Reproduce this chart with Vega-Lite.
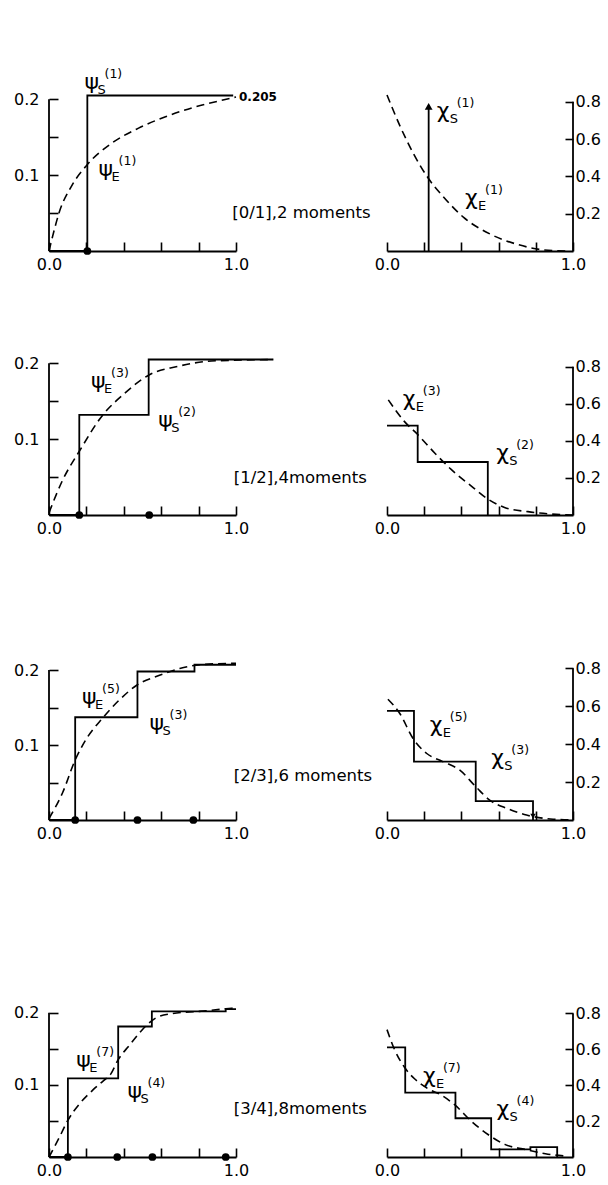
{
  "$schema": "https://vega.github.io/schema/vega-lite/v6.json",
  "padding": {"left": 13, "top": 60, "right": 5, "bottom": 5},
  "background": "white",
  "bounds": "flush",
  "columns": 2,
  "spacing": {"row": 20, "column": 151},
  "config": {
    "view": {"stroke": null},
    "font": "DejaVu Sans",
    "mark": {"color": "black"},
    "axis": {"domainColor": "black", "domainWidth": 1.8, "tickColor": "black", "tickWidth": 1.6, "labelFont": "DejaVu Sans", "labelFontSize": 16, "labelColor": "black", "labelOverlap": false, "labelBound": false, "labelFlush": false, "grid": false, "title": null},
    "text": {"font": "DejaVu Sans", "color": "black"}
  },
  "datasets": {
    "frame": [{"side": "L", "x": 0, "y": 0, "y2": 0.2}, {"side": "R", "x": 1, "y": 0, "y2": 0.8}],
    "steps": [
      {"p": "L1", "k": 1, "x": 0, "y": 0}, {"p": "L1", "k": 2, "x": 0.205, "y": 0}, {"p": "L1", "k": 3, "x": 0.205, "y": 0.205}, {"p": "L1", "k": 4, "x": 0.985, "y": 0.205},
      {"p": "L2", "k": 1, "x": 0, "y": 0}, {"p": "L2", "k": 2, "x": 0.162, "y": 0}, {"p": "L2", "k": 3, "x": 0.162, "y": 0.132}, {"p": "L2", "k": 4, "x": 0.533, "y": 0.132}, {"p": "L2", "k": 5, "x": 0.533, "y": 0.205}, {"p": "L2", "k": 6, "x": 1.2, "y": 0.205},
      {"p": "L3", "k": 1, "x": 0, "y": 0}, {"p": "L3", "k": 2, "x": 0.14, "y": 0}, {"p": "L3", "k": 3, "x": 0.14, "y": 0.137}, {"p": "L3", "k": 4, "x": 0.473, "y": 0.137}, {"p": "L3", "k": 5, "x": 0.473, "y": 0.198}, {"p": "L3", "k": 6, "x": 0.778, "y": 0.198}, {"p": "L3", "k": 7, "x": 0.778, "y": 0.207}, {"p": "L3", "k": 8, "x": 1.0, "y": 0.207},
      {"p": "L4", "k": 1, "x": 0, "y": 0}, {"p": "L4", "k": 2, "x": 0.101, "y": 0}, {"p": "L4", "k": 3, "x": 0.101, "y": 0.109}, {"p": "L4", "k": 4, "x": 0.37, "y": 0.109}, {"p": "L4", "k": 5, "x": 0.37, "y": 0.181}, {"p": "L4", "k": 6, "x": 0.55, "y": 0.181}, {"p": "L4", "k": 7, "x": 0.55, "y": 0.202}, {"p": "L4", "k": 8, "x": 0.945, "y": 0.202}, {"p": "L4", "k": 9, "x": 0.945, "y": 0.205}, {"p": "L4", "k": 10, "x": 1.0, "y": 0.205},
      {"p": "R1", "k": 1, "x": 0.224, "y": 0}, {"p": "R1", "k": 2, "x": 0.224, "y": 0.78},
      {"p": "R2", "k": 1, "x": 0, "y": 0.482}, {"p": "R2", "k": 2, "x": 0.165, "y": 0.482}, {"p": "R2", "k": 3, "x": 0.165, "y": 0.286}, {"p": "R2", "k": 4, "x": 0.542, "y": 0.286}, {"p": "R2", "k": 5, "x": 0.542, "y": 0},
      {"p": "R3", "k": 1, "x": 0, "y": 0.575}, {"p": "R3", "k": 2, "x": 0.145, "y": 0.575}, {"p": "R3", "k": 3, "x": 0.145, "y": 0.308}, {"p": "R3", "k": 4, "x": 0.477, "y": 0.308}, {"p": "R3", "k": 5, "x": 0.477, "y": 0.1}, {"p": "R3", "k": 6, "x": 0.785, "y": 0.1}, {"p": "R3", "k": 7, "x": 0.785, "y": 0},
      {"p": "R4", "k": 1, "x": 0, "y": 0.611}, {"p": "R4", "k": 2, "x": 0.098, "y": 0.611}, {"p": "R4", "k": 3, "x": 0.098, "y": 0.359}, {"p": "R4", "k": 4, "x": 0.368, "y": 0.359}, {"p": "R4", "k": 5, "x": 0.368, "y": 0.216}, {"p": "R4", "k": 6, "x": 0.56, "y": 0.216}, {"p": "R4", "k": 7, "x": 0.56, "y": 0.042}, {"p": "R4", "k": 8, "x": 0.771, "y": 0.042}, {"p": "R4", "k": 9, "x": 0.771, "y": 0.055}, {"p": "R4", "k": 10, "x": 0.915, "y": 0.055}, {"p": "R4", "k": 11, "x": 0.915, "y": 0}
    ],
    "curves": [
      {"p": "L1", "k": 1, "x": 0, "y": 0}, {"p": "L1", "k": 2, "x": 0.02, "y": 0.02}, {"p": "L1", "k": 3, "x": 0.056, "y": 0.052}, {"p": "L1", "k": 4, "x": 0.119, "y": 0.085}, {"p": "L1", "k": 5, "x": 0.205, "y": 0.114}, {"p": "L1", "k": 6, "x": 0.335, "y": 0.142}, {"p": "L1", "k": 7, "x": 0.479, "y": 0.162}, {"p": "L1", "k": 8, "x": 0.623, "y": 0.177}, {"p": "L1", "k": 9, "x": 0.768, "y": 0.189}, {"p": "L1", "k": 10, "x": 0.93, "y": 0.199}, {"p": "L1", "k": 11, "x": 1.0, "y": 0.203},
      {"p": "L2", "k": 1, "x": 0, "y": 0.003}, {"p": "L2", "k": 2, "x": 0.073, "y": 0.046}, {"p": "L2", "k": 3, "x": 0.162, "y": 0.084}, {"p": "L2", "k": 4, "x": 0.288, "y": 0.132}, {"p": "L2", "k": 5, "x": 0.403, "y": 0.16}, {"p": "L2", "k": 6, "x": 0.537, "y": 0.185}, {"p": "L2", "k": 7, "x": 0.689, "y": 0.196}, {"p": "L2", "k": 8, "x": 0.868, "y": 0.203}, {"p": "L2", "k": 9, "x": 1.198, "y": 0.205},
      {"p": "L3", "k": 1, "x": 0, "y": 0.002}, {"p": "L3", "k": 2, "x": 0.072, "y": 0.036}, {"p": "L3", "k": 3, "x": 0.14, "y": 0.08}, {"p": "L3", "k": 4, "x": 0.197, "y": 0.107}, {"p": "L3", "k": 5, "x": 0.287, "y": 0.136}, {"p": "L3", "k": 6, "x": 0.376, "y": 0.16}, {"p": "L3", "k": 7, "x": 0.471, "y": 0.18}, {"p": "L3", "k": 8, "x": 0.591, "y": 0.193}, {"p": "L3", "k": 9, "x": 0.699, "y": 0.202}, {"p": "L3", "k": 10, "x": 0.806, "y": 0.207}, {"p": "L3", "k": 11, "x": 1.0, "y": 0.209},
      {"p": "L4", "k": 1, "x": 0, "y": 0}, {"p": "L4", "k": 2, "x": 0.057, "y": 0.028}, {"p": "L4", "k": 3, "x": 0.101, "y": 0.051}, {"p": "L4", "k": 4, "x": 0.164, "y": 0.074}, {"p": "L4", "k": 5, "x": 0.235, "y": 0.093}, {"p": "L4", "k": 6, "x": 0.292, "y": 0.106}, {"p": "L4", "k": 7, "x": 0.33, "y": 0.115}, {"p": "L4", "k": 8, "x": 0.37, "y": 0.135}, {"p": "L4", "k": 9, "x": 0.43, "y": 0.155}, {"p": "L4", "k": 10, "x": 0.483, "y": 0.172}, {"p": "L4", "k": 11, "x": 0.527, "y": 0.184}, {"p": "L4", "k": 12, "x": 0.572, "y": 0.193}, {"p": "L4", "k": 13, "x": 0.66, "y": 0.199}, {"p": "L4", "k": 14, "x": 0.803, "y": 0.202}, {"p": "L4", "k": 15, "x": 0.962, "y": 0.206}, {"p": "L4", "k": 16, "x": 1.0, "y": 0.207},
      {"p": "R1", "k": 1, "x": 0, "y": 0.836}, {"p": "R1", "k": 2, "x": 0.072, "y": 0.665}, {"p": "R1", "k": 3, "x": 0.143, "y": 0.52}, {"p": "R1", "k": 4, "x": 0.224, "y": 0.387}, {"p": "R1", "k": 5, "x": 0.305, "y": 0.288}, {"p": "R1", "k": 6, "x": 0.412, "y": 0.18}, {"p": "R1", "k": 7, "x": 0.556, "y": 0.09}, {"p": "R1", "k": 8, "x": 0.699, "y": 0.036}, {"p": "R1", "k": 9, "x": 0.842, "y": 0.006}, {"p": "R1", "k": 10, "x": 0.97, "y": 0},
      {"p": "R2", "k": 1, "x": 0.007, "y": 0.621}, {"p": "R2", "k": 2, "x": 0.093, "y": 0.505}, {"p": "R2", "k": 3, "x": 0.165, "y": 0.434}, {"p": "R2", "k": 4, "x": 0.255, "y": 0.336}, {"p": "R2", "k": 5, "x": 0.345, "y": 0.246}, {"p": "R2", "k": 6, "x": 0.452, "y": 0.157}, {"p": "R2", "k": 7, "x": 0.542, "y": 0.086}, {"p": "R2", "k": 8, "x": 0.632, "y": 0.041}, {"p": "R2", "k": 9, "x": 0.758, "y": 0.018}, {"p": "R2", "k": 10, "x": 0.884, "y": 0.005}, {"p": "R2", "k": 11, "x": 1.0, "y": 0},
      {"p": "R3", "k": 1, "x": 0.005, "y": 0.637}, {"p": "R3", "k": 2, "x": 0.068, "y": 0.563}, {"p": "R3", "k": 3, "x": 0.14, "y": 0.43}, {"p": "R3", "k": 4, "x": 0.212, "y": 0.352}, {"p": "R3", "k": 5, "x": 0.3, "y": 0.308}, {"p": "R3", "k": 6, "x": 0.39, "y": 0.264}, {"p": "R3", "k": 7, "x": 0.477, "y": 0.176}, {"p": "R3", "k": 8, "x": 0.552, "y": 0.105}, {"p": "R3", "k": 9, "x": 0.642, "y": 0.062}, {"p": "R3", "k": 10, "x": 0.75, "y": 0.026}, {"p": "R3", "k": 11, "x": 0.893, "y": 0.004}, {"p": "R3", "k": 12, "x": 1.0, "y": 0},
      {"p": "R4", "k": 1, "x": 0, "y": 0.71}, {"p": "R4", "k": 2, "x": 0.04, "y": 0.6}, {"p": "R4", "k": 3, "x": 0.094, "y": 0.5}, {"p": "R4", "k": 4, "x": 0.148, "y": 0.436}, {"p": "R4", "k": 5, "x": 0.22, "y": 0.381}, {"p": "R4", "k": 6, "x": 0.292, "y": 0.345}, {"p": "R4", "k": 7, "x": 0.365, "y": 0.29}, {"p": "R4", "k": 8, "x": 0.455, "y": 0.198}, {"p": "R4", "k": 9, "x": 0.545, "y": 0.124}, {"p": "R4", "k": 10, "x": 0.636, "y": 0.069}, {"p": "R4", "k": 11, "x": 0.744, "y": 0.042}, {"p": "R4", "k": 12, "x": 0.852, "y": 0.018}, {"p": "R4", "k": 13, "x": 0.96, "y": 0.005}
    ],
    "nodes": [
      {"p": "L1", "x": 0.205, "y": 0},
      {"p": "L2", "x": 0.162, "y": 0}, {"p": "L2", "x": 0.536, "y": 0},
      {"p": "L3", "x": 0.14, "y": 0}, {"p": "L3", "x": 0.473, "y": 0}, {"p": "L3", "x": 0.772, "y": 0},
      {"p": "L4", "x": 0.101, "y": 0}, {"p": "L4", "x": 0.365, "y": 0}, {"p": "L4", "x": 0.553, "y": 0}, {"p": "L4", "x": 0.945, "y": 0}
    ],
    "heads": [
      {"p": "R1", "dir": "up", "x": 0.224, "y": 0.775},
      {"p": "R3", "dir": "down", "x": 0.785, "y": 0.02}
    ],
    "labels": [
      {"p": "L1", "x": 0.19, "y": 0.223, "m": "ψ", "sub": "S", "sup": "(1)"},
      {"p": "L1", "x": 0.265, "y": 0.108, "m": "ψ", "sub": "E", "sup": "(1)"},
      {"p": "R1", "x": 0.267, "y": 0.75, "m": "χ", "sub": "S", "sup": "(1)"},
      {"p": "R1", "x": 0.42, "y": 0.286, "m": "χ", "sub": "E", "sup": "(1)"},
      {"p": "L2", "x": 0.225, "y": 0.177, "m": "ψ", "sub": "E", "sup": "(3)"},
      {"p": "L2", "x": 0.584, "y": 0.125, "m": "ψ", "sub": "S", "sup": "(2)"},
      {"p": "R2", "x": 0.085, "y": 0.627, "m": "χ", "sub": "E", "sup": "(3)"},
      {"p": "R2", "x": 0.587, "y": 0.332, "m": "χ", "sub": "S", "sup": "(2)"},
      {"p": "L3", "x": 0.177, "y": 0.164, "m": "ψ", "sub": "E", "sup": "(5)"},
      {"p": "L3", "x": 0.538, "y": 0.129, "m": "ψ", "sub": "S", "sup": "(3)"},
      {"p": "R3", "x": 0.23, "y": 0.5, "m": "χ", "sub": "E", "sup": "(5)"},
      {"p": "R3", "x": 0.561, "y": 0.327, "m": "χ", "sub": "S", "sup": "(3)"},
      {"p": "L4", "x": 0.146, "y": 0.135, "m": "ψ", "sub": "E", "sup": "(7)"},
      {"p": "L4", "x": 0.42, "y": 0.092, "m": "ψ", "sub": "S", "sup": "(4)"},
      {"p": "R4", "x": 0.193, "y": 0.453, "m": "χ", "sub": "E", "sup": "(7)"},
      {"p": "R4", "x": 0.589, "y": 0.266, "m": "χ", "sub": "S", "sup": "(4)"}
    ],
    "notes": [
      {"p": "L1", "x": 0.98, "y": 0.05, "t": "[0/1],2 moments"},
      {"p": "L2", "x": 0.988, "y": 0.049, "t": "[1/2],4moments"},
      {"p": "L3", "x": 0.988, "y": 0.059, "t": "[2/3],6 moments"},
      {"p": "L4", "x": 0.988, "y": 0.067, "t": "[3/4],8moments"}
    ],
    "values": [
      {"p": "L1", "x": 1.016, "y": 0.203, "t": "0.205"}
    ]
  },
  "concat": [
    {
      "width": 187, "height": 191,
      "encoding": {
        "x": {"field": "x", "type": "quantitative", "scale": {"domain": [0, 1], "nice": false}, "axis": {"values": [0, 0.2, 0.4, 0.6, 0.8, 1], "labelExpr": "datum.value == 0 || datum.value == 1 ? format(datum.value, '.1f') : ''", "tickSize": -9, "labelPadding": 14}},
        "y": {"field": "y", "type": "quantitative", "scale": {"domain": [0, 0.2518], "nice": false}, "axis": {"values": [0.05, 0.1, 0.15, 0.2], "labelExpr": "datum.value == 0.1 || datum.value == 0.2 ? format(datum.value, '.1f') : ''", "tickSize": -9, "domain": false, "labelPadding": 19}}
      },
      "layer": [
        {"data": {"name": "frame"}, "transform": [{"filter": "datum.side == 'L'"}], "mark": {"type": "rule", "strokeWidth": 1.8}, "encoding": {"y2": {"field": "y2"}}},
        {"data": {"name": "steps"}, "transform": [{"filter": "datum.p == 'L1'"}], "mark": {"type": "line", "strokeWidth": 1.8}, "encoding": {"order": {"field": "k", "type": "quantitative"}}},
        {"data": {"name": "curves"}, "transform": [{"filter": "datum.p == 'L1'"}], "mark": {"type": "line", "strokeWidth": 1.6, "strokeDash": [8, 5], "interpolate": "monotone"}, "encoding": {"order": {"field": "k", "type": "quantitative"}}},
        {"data": {"name": "nodes"}, "transform": [{"filter": "datum.p == 'L1'"}], "mark": {"type": "point", "filled": true, "size": 60, "opacity": 1}},
        {"data": {"name": "labels"}, "transform": [{"filter": "datum.p == 'L1'"}], "mark": {"type": "text", "align": "left", "baseline": "middle", "fontSize": 22}, "encoding": {"text": {"field": "m"}}},
        {"data": {"name": "labels"}, "transform": [{"filter": "datum.p == 'L1'"}], "mark": {"type": "text", "align": "left", "baseline": "middle", "fontSize": 13, "dx": 13, "dy": 8}, "encoding": {"text": {"field": "sub"}}},
        {"data": {"name": "labels"}, "transform": [{"filter": "datum.p == 'L1'"}], "mark": {"type": "text", "align": "left", "baseline": "middle", "fontSize": 12.5, "dx": 20, "dy": -8}, "encoding": {"text": {"field": "sup"}}},
        {"data": {"name": "notes"}, "transform": [{"filter": "datum.p == 'L1'"}], "mark": {"type": "text", "align": "left", "baseline": "middle", "fontSize": 16.5}, "encoding": {"text": {"field": "t"}}},
        {"data": {"name": "values"}, "transform": [{"filter": "datum.p == 'L1'"}], "mark": {"type": "text", "align": "left", "baseline": "middle", "fontSize": 12, "fontWeight": "bold"}, "encoding": {"text": {"field": "t"}}}
      ]
    },
    {
      "width": 186, "height": 191,
      "encoding": {
        "x": {"field": "x", "type": "quantitative", "scale": {"domain": [0, 1], "nice": false}, "axis": {"values": [0, 0.2, 0.4, 0.6, 0.8, 1], "labelExpr": "datum.value == 0 || datum.value == 1 ? format(datum.value, '.1f') : ''", "tickSize": -9, "labelPadding": 14}},
        "y": {"field": "y", "type": "quantitative", "scale": {"domain": [0, 1.0234], "nice": false}, "axis": {"orient": "right", "values": [0.2, 0.4, 0.6, 0.8], "format": ".1f", "tickSize": -8, "domain": false, "labelPadding": 10}}
      },
      "layer": [
        {"data": {"name": "frame"}, "transform": [{"filter": "datum.side == 'R'"}], "mark": {"type": "rule", "strokeWidth": 1.8}, "encoding": {"y2": {"field": "y2"}}},
        {"data": {"name": "steps"}, "transform": [{"filter": "datum.p == 'R1'"}], "mark": {"type": "line", "strokeWidth": 1.8}, "encoding": {"order": {"field": "k", "type": "quantitative"}}},
        {"data": {"name": "curves"}, "transform": [{"filter": "datum.p == 'R1'"}], "mark": {"type": "line", "strokeWidth": 1.6, "strokeDash": [8, 5], "interpolate": "monotone"}, "encoding": {"order": {"field": "k", "type": "quantitative"}}},
        {"data": {"name": "heads"}, "transform": [{"filter": "datum.p == 'R1'"}], "mark": {"type": "point", "shape": "triangle-up", "filled": true, "size": 60, "opacity": 1}},
        {"data": {"name": "labels"}, "transform": [{"filter": "datum.p == 'R1'"}], "mark": {"type": "text", "align": "left", "baseline": "middle", "fontSize": 22}, "encoding": {"text": {"field": "m"}}},
        {"data": {"name": "labels"}, "transform": [{"filter": "datum.p == 'R1'"}], "mark": {"type": "text", "align": "left", "baseline": "middle", "fontSize": 13, "dx": 13, "dy": 8}, "encoding": {"text": {"field": "sub"}}},
        {"data": {"name": "labels"}, "transform": [{"filter": "datum.p == 'R1'"}], "mark": {"type": "text", "align": "left", "baseline": "middle", "fontSize": 12.5, "dx": 20, "dy": -8}, "encoding": {"text": {"field": "sup"}}}
      ]
    },
    {
      "width": 187, "height": 244,
      "encoding": {
        "x": {"field": "x", "type": "quantitative", "scale": {"domain": [0, 1], "nice": false}, "axis": {"values": [0, 0.2, 0.4, 0.6, 0.8, 1], "labelExpr": "datum.value == 0 || datum.value == 1 ? format(datum.value, '.1f') : ''", "tickSize": -9, "labelPadding": 14}},
        "y": {"field": "y", "type": "quantitative", "scale": {"domain": [0, 0.3217], "nice": false}, "axis": {"values": [0.05, 0.1, 0.15, 0.2], "labelExpr": "datum.value == 0.1 || datum.value == 0.2 ? format(datum.value, '.1f') : ''", "tickSize": -9, "domain": false, "labelPadding": 19}}
      },
      "layer": [
        {"data": {"name": "frame"}, "transform": [{"filter": "datum.side == 'L'"}], "mark": {"type": "rule", "strokeWidth": 1.8}, "encoding": {"y2": {"field": "y2"}}},
        {"data": {"name": "steps"}, "transform": [{"filter": "datum.p == 'L2'"}], "mark": {"type": "line", "strokeWidth": 1.8}, "encoding": {"order": {"field": "k", "type": "quantitative"}}},
        {"data": {"name": "curves"}, "transform": [{"filter": "datum.p == 'L2'"}], "mark": {"type": "line", "strokeWidth": 1.6, "strokeDash": [8, 5], "interpolate": "monotone"}, "encoding": {"order": {"field": "k", "type": "quantitative"}}},
        {"data": {"name": "nodes"}, "transform": [{"filter": "datum.p == 'L2'"}], "mark": {"type": "point", "filled": true, "size": 60, "opacity": 1}},
        {"data": {"name": "labels"}, "transform": [{"filter": "datum.p == 'L2'"}], "mark": {"type": "text", "align": "left", "baseline": "middle", "fontSize": 22}, "encoding": {"text": {"field": "m"}}},
        {"data": {"name": "labels"}, "transform": [{"filter": "datum.p == 'L2'"}], "mark": {"type": "text", "align": "left", "baseline": "middle", "fontSize": 13, "dx": 13, "dy": 8}, "encoding": {"text": {"field": "sub"}}},
        {"data": {"name": "labels"}, "transform": [{"filter": "datum.p == 'L2'"}], "mark": {"type": "text", "align": "left", "baseline": "middle", "fontSize": 12.5, "dx": 20, "dy": -8}, "encoding": {"text": {"field": "sup"}}},
        {"data": {"name": "notes"}, "transform": [{"filter": "datum.p == 'L2'"}], "mark": {"type": "text", "align": "left", "baseline": "middle", "fontSize": 16.5}, "encoding": {"text": {"field": "t"}}}
      ]
    },
    {
      "width": 186, "height": 244,
      "encoding": {
        "x": {"field": "x", "type": "quantitative", "scale": {"domain": [0, 1], "nice": false}, "axis": {"values": [0, 0.2, 0.4, 0.6, 0.8, 1], "labelExpr": "datum.value == 0 || datum.value == 1 ? format(datum.value, '.1f') : ''", "tickSize": -9, "labelPadding": 14}},
        "y": {"field": "y", "type": "quantitative", "scale": {"domain": [0, 1.3163], "nice": false}, "axis": {"orient": "right", "values": [0.2, 0.4, 0.6, 0.8], "format": ".1f", "tickSize": -8, "domain": false, "labelPadding": 10}}
      },
      "layer": [
        {"data": {"name": "frame"}, "transform": [{"filter": "datum.side == 'R'"}], "mark": {"type": "rule", "strokeWidth": 1.8}, "encoding": {"y2": {"field": "y2"}}},
        {"data": {"name": "steps"}, "transform": [{"filter": "datum.p == 'R2'"}], "mark": {"type": "line", "strokeWidth": 1.8}, "encoding": {"order": {"field": "k", "type": "quantitative"}}},
        {"data": {"name": "curves"}, "transform": [{"filter": "datum.p == 'R2'"}], "mark": {"type": "line", "strokeWidth": 1.6, "strokeDash": [8, 5], "interpolate": "monotone"}, "encoding": {"order": {"field": "k", "type": "quantitative"}}},
        {"data": {"name": "labels"}, "transform": [{"filter": "datum.p == 'R2'"}], "mark": {"type": "text", "align": "left", "baseline": "middle", "fontSize": 22}, "encoding": {"text": {"field": "m"}}},
        {"data": {"name": "labels"}, "transform": [{"filter": "datum.p == 'R2'"}], "mark": {"type": "text", "align": "left", "baseline": "middle", "fontSize": 13, "dx": 13, "dy": 8}, "encoding": {"text": {"field": "sub"}}},
        {"data": {"name": "labels"}, "transform": [{"filter": "datum.p == 'R2'"}], "mark": {"type": "text", "align": "left", "baseline": "middle", "fontSize": 12.5, "dx": 20, "dy": -8}, "encoding": {"text": {"field": "sup"}}}
      ]
    },
    {
      "width": 187, "height": 285,
      "encoding": {
        "x": {"field": "x", "type": "quantitative", "scale": {"domain": [0, 1], "nice": false}, "axis": {"values": [0, 0.2, 0.4, 0.6, 0.8, 1], "labelExpr": "datum.value == 0 || datum.value == 1 ? format(datum.value, '.1f') : ''", "tickSize": -9, "labelPadding": 14}},
        "y": {"field": "y", "type": "quantitative", "scale": {"domain": [0, 0.38], "nice": false}, "axis": {"values": [0.05, 0.1, 0.15, 0.2], "labelExpr": "datum.value == 0.1 || datum.value == 0.2 ? format(datum.value, '.1f') : ''", "tickSize": -9, "domain": false, "labelPadding": 19}}
      },
      "layer": [
        {"data": {"name": "frame"}, "transform": [{"filter": "datum.side == 'L'"}], "mark": {"type": "rule", "strokeWidth": 1.8}, "encoding": {"y2": {"field": "y2"}}},
        {"data": {"name": "steps"}, "transform": [{"filter": "datum.p == 'L3'"}], "mark": {"type": "line", "strokeWidth": 1.8}, "encoding": {"order": {"field": "k", "type": "quantitative"}}},
        {"data": {"name": "curves"}, "transform": [{"filter": "datum.p == 'L3'"}], "mark": {"type": "line", "strokeWidth": 1.6, "strokeDash": [8, 5], "interpolate": "monotone"}, "encoding": {"order": {"field": "k", "type": "quantitative"}}},
        {"data": {"name": "nodes"}, "transform": [{"filter": "datum.p == 'L3'"}], "mark": {"type": "point", "filled": true, "size": 60, "opacity": 1}},
        {"data": {"name": "labels"}, "transform": [{"filter": "datum.p == 'L3'"}], "mark": {"type": "text", "align": "left", "baseline": "middle", "fontSize": 22}, "encoding": {"text": {"field": "m"}}},
        {"data": {"name": "labels"}, "transform": [{"filter": "datum.p == 'L3'"}], "mark": {"type": "text", "align": "left", "baseline": "middle", "fontSize": 13, "dx": 13, "dy": 8}, "encoding": {"text": {"field": "sub"}}},
        {"data": {"name": "labels"}, "transform": [{"filter": "datum.p == 'L3'"}], "mark": {"type": "text", "align": "left", "baseline": "middle", "fontSize": 12.5, "dx": 20, "dy": -8}, "encoding": {"text": {"field": "sup"}}},
        {"data": {"name": "notes"}, "transform": [{"filter": "datum.p == 'L3'"}], "mark": {"type": "text", "align": "left", "baseline": "middle", "fontSize": 16.5}, "encoding": {"text": {"field": "t"}}}
      ]
    },
    {
      "width": 186, "height": 285,
      "encoding": {
        "x": {"field": "x", "type": "quantitative", "scale": {"domain": [0, 1], "nice": false}, "axis": {"values": [0, 0.2, 0.4, 0.6, 0.8, 1], "labelExpr": "datum.value == 0 || datum.value == 1 ? format(datum.value, '.1f') : ''", "tickSize": -9, "labelPadding": 14}},
        "y": {"field": "y", "type": "quantitative", "scale": {"domain": [0, 1.503], "nice": false}, "axis": {"orient": "right", "values": [0.2, 0.4, 0.6, 0.8], "format": ".1f", "tickSize": -8, "domain": false, "labelPadding": 10}}
      },
      "layer": [
        {"data": {"name": "frame"}, "transform": [{"filter": "datum.side == 'R'"}], "mark": {"type": "rule", "strokeWidth": 1.8}, "encoding": {"y2": {"field": "y2"}}},
        {"data": {"name": "steps"}, "transform": [{"filter": "datum.p == 'R3'"}], "mark": {"type": "line", "strokeWidth": 1.8}, "encoding": {"order": {"field": "k", "type": "quantitative"}}},
        {"data": {"name": "curves"}, "transform": [{"filter": "datum.p == 'R3'"}], "mark": {"type": "line", "strokeWidth": 1.6, "strokeDash": [8, 5], "interpolate": "monotone"}, "encoding": {"order": {"field": "k", "type": "quantitative"}}},
        {"data": {"name": "heads"}, "transform": [{"filter": "datum.p == 'R3'"}], "mark": {"type": "point", "shape": "triangle-down", "filled": true, "size": 30, "opacity": 1}},
        {"data": {"name": "labels"}, "transform": [{"filter": "datum.p == 'R3'"}], "mark": {"type": "text", "align": "left", "baseline": "middle", "fontSize": 22}, "encoding": {"text": {"field": "m"}}},
        {"data": {"name": "labels"}, "transform": [{"filter": "datum.p == 'R3'"}], "mark": {"type": "text", "align": "left", "baseline": "middle", "fontSize": 13, "dx": 13, "dy": 8}, "encoding": {"text": {"field": "sub"}}},
        {"data": {"name": "labels"}, "transform": [{"filter": "datum.p == 'R3'"}], "mark": {"type": "text", "align": "left", "baseline": "middle", "fontSize": 12.5, "dx": 20, "dy": -8}, "encoding": {"text": {"field": "sup"}}}
      ]
    },
    {
      "width": 187, "height": 317,
      "encoding": {
        "x": {"field": "x", "type": "quantitative", "scale": {"domain": [0, 1], "nice": false}, "axis": {"values": [0, 0.2, 0.4, 0.6, 0.8, 1], "labelExpr": "datum.value == 0 || datum.value == 1 ? format(datum.value, '.1f') : ''", "tickSize": -9, "labelPadding": 14}},
        "y": {"field": "y", "type": "quantitative", "scale": {"domain": [0, 0.4397], "nice": false}, "axis": {"values": [0.05, 0.1, 0.15, 0.2], "labelExpr": "datum.value == 0.1 || datum.value == 0.2 ? format(datum.value, '.1f') : ''", "tickSize": -9, "domain": false, "labelPadding": 19}}
      },
      "layer": [
        {"data": {"name": "frame"}, "transform": [{"filter": "datum.side == 'L'"}], "mark": {"type": "rule", "strokeWidth": 1.8}, "encoding": {"y2": {"field": "y2"}}},
        {"data": {"name": "steps"}, "transform": [{"filter": "datum.p == 'L4'"}], "mark": {"type": "line", "strokeWidth": 1.8}, "encoding": {"order": {"field": "k", "type": "quantitative"}}},
        {"data": {"name": "curves"}, "transform": [{"filter": "datum.p == 'L4'"}], "mark": {"type": "line", "strokeWidth": 1.6, "strokeDash": [8, 5], "interpolate": "monotone"}, "encoding": {"order": {"field": "k", "type": "quantitative"}}},
        {"data": {"name": "nodes"}, "transform": [{"filter": "datum.p == 'L4'"}], "mark": {"type": "point", "filled": true, "size": 60, "opacity": 1}},
        {"data": {"name": "labels"}, "transform": [{"filter": "datum.p == 'L4'"}], "mark": {"type": "text", "align": "left", "baseline": "middle", "fontSize": 22}, "encoding": {"text": {"field": "m"}}},
        {"data": {"name": "labels"}, "transform": [{"filter": "datum.p == 'L4'"}], "mark": {"type": "text", "align": "left", "baseline": "middle", "fontSize": 13, "dx": 13, "dy": 8}, "encoding": {"text": {"field": "sub"}}},
        {"data": {"name": "labels"}, "transform": [{"filter": "datum.p == 'L4'"}], "mark": {"type": "text", "align": "left", "baseline": "middle", "fontSize": 12.5, "dx": 20, "dy": -8}, "encoding": {"text": {"field": "sup"}}},
        {"data": {"name": "notes"}, "transform": [{"filter": "datum.p == 'L4'"}], "mark": {"type": "text", "align": "left", "baseline": "middle", "fontSize": 16.5}, "encoding": {"text": {"field": "t"}}}
      ]
    },
    {
      "width": 186, "height": 317,
      "encoding": {
        "x": {"field": "x", "type": "quantitative", "scale": {"domain": [0, 1], "nice": false}, "axis": {"values": [0, 0.2, 0.4, 0.6, 0.8, 1], "labelExpr": "datum.value == 0 || datum.value == 1 ? format(datum.value, '.1f') : ''", "tickSize": -9, "labelPadding": 14}},
        "y": {"field": "y", "type": "quantitative", "scale": {"domain": [0, 1.767], "nice": false}, "axis": {"orient": "right", "values": [0.2, 0.4, 0.6, 0.8], "format": ".1f", "tickSize": -8, "domain": false, "labelPadding": 10}}
      },
      "layer": [
        {"data": {"name": "frame"}, "transform": [{"filter": "datum.side == 'R'"}], "mark": {"type": "rule", "strokeWidth": 1.8}, "encoding": {"y2": {"field": "y2"}}},
        {"data": {"name": "steps"}, "transform": [{"filter": "datum.p == 'R4'"}], "mark": {"type": "line", "strokeWidth": 1.8}, "encoding": {"order": {"field": "k", "type": "quantitative"}}},
        {"data": {"name": "curves"}, "transform": [{"filter": "datum.p == 'R4'"}], "mark": {"type": "line", "strokeWidth": 1.6, "strokeDash": [8, 5], "interpolate": "monotone"}, "encoding": {"order": {"field": "k", "type": "quantitative"}}},
        {"data": {"name": "labels"}, "transform": [{"filter": "datum.p == 'R4'"}], "mark": {"type": "text", "align": "left", "baseline": "middle", "fontSize": 22}, "encoding": {"text": {"field": "m"}}},
        {"data": {"name": "labels"}, "transform": [{"filter": "datum.p == 'R4'"}], "mark": {"type": "text", "align": "left", "baseline": "middle", "fontSize": 13, "dx": 13, "dy": 8}, "encoding": {"text": {"field": "sub"}}},
        {"data": {"name": "labels"}, "transform": [{"filter": "datum.p == 'R4'"}], "mark": {"type": "text", "align": "left", "baseline": "middle", "fontSize": 12.5, "dx": 20, "dy": -8}, "encoding": {"text": {"field": "sup"}}}
      ]
    }
  ]
}
